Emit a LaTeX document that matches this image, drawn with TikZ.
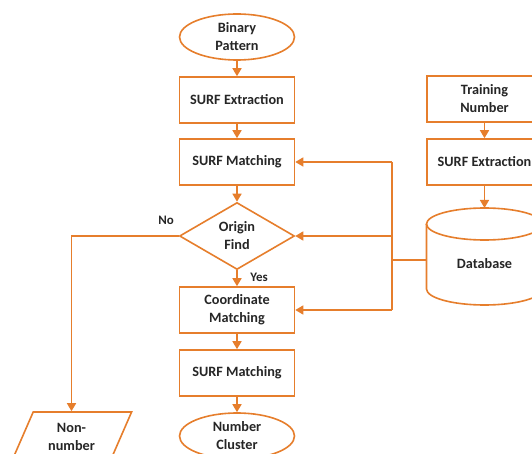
\documentclass[tikz,border=0pt]{standalone}
\usepackage{fontspec}
\setmainfont{Carlito}
\usetikzlibrary{shapes.geometric,arrows.meta}
\definecolor{flow}{RGB}{230,126,44}
\definecolor{ink}{RGB}{38,38,38}
\begin{document}
\begin{tikzpicture}[x=1bp,y=-1bp,
  txt/.style={font=\fontsize{14.3}{18}\selectfont\bfseries,text=ink,align=center,inner sep=0pt},
  line/.style={draw=flow,line width=1.6bp},
  arr/.style={line,-{Triangle[length=8bp,width=9bp]}},
  proc/.style={txt,line,fill=white,rectangle,minimum width=115bp,minimum height=46bp},
  term/.style={txt,line,fill=white,ellipse,minimum width=115bp,minimum height=46bp},
  decide/.style={txt,line,fill=white,diamond,aspect=1.7,minimum width=115bp,minimum height=67bp},
  io/.style={txt,line,fill=white,trapezium,trapezium left angle=64,trapezium right angle=116,
    trapezium stretches=true,minimum width=121bp,minimum height=50bp},
  lbl/.style={font=\bfseries\fontsize{13}{15}\selectfont,text=ink,inner sep=0pt}
]
\useasboundingbox (0,0) rectangle (532,454);
\clip (0,0) rectangle (532,454);

% main column
\node[term]   (bp)  at (237,37)  {Binary\\Pattern};
\node[proc]   (se1) at (237,100) {SURF Extraction};
\node[proc]   (sm1) at (237,162) {SURF Matching};
\node[decide] (of)  at (237,236) {Origin\\Find};
\node[proc]   (cm)  at (237,310) {Coordinate\\Matching};
\node[proc]   (sm2) at (237,373) {SURF Matching};
\node[term]   (nc)  at (237,436) {Number\\Cluster};

% training column
\node[proc] (tn)  at (484.5,99)  {Training\\Number};
\node[proc] (se2) at (484.5,162) {SURF Extraction};

% database cylinder
\draw[line,fill=white] (426.5,224) -- (426.5,289)
  arc[start angle=180,end angle=360,x radius=58bp,y radius=16bp]
  -- (542.5,224)
  arc[start angle=0,end angle=180,x radius=58bp,y radius=16bp] -- cycle;
\draw[line] (426.5,224) arc[start angle=180,end angle=360,x radius=58bp,y radius=16bp];
\node[txt] (db) at (484.5,264) {Database};
\coordinate (dbtop) at (484.5,208);
\coordinate (dbw) at (426.5,260);
\coordinate (bus) at (392,260);

% output for rejected patterns
\node[io] (nn) at (71.5,437) {Non-\\number};

% main flow
\draw[arr] (bp) -- (se1);
\draw[arr] (se1) -- (sm1);
\draw[arr] (sm1) -- (of);
\draw[arr] (of) -- (cm);
\draw[arr] (cm) -- (sm2);
\draw[arr] (sm2) -- (nc);

% training flow
\draw[arr] (tn) -- (se2);
\draw[arr] (se2) -- (dbtop);

% database feedback bus
\draw[line] (dbw) -- (bus);
\draw[line] (sm1.east -| bus) -- (cm.east -| bus);
\draw[arr] (sm1.east -| bus) -- (sm1.east);
\draw[arr] (of.east -| bus) -- (of.east);
\draw[arr] (cm.east -| bus) -- (cm.east);

% no branch
\draw[arr] (of.west) -- (of.west -| nn.north) -- (nn.north);

\node[lbl] at (166,220) {No};
\node[lbl] at (259,277) {Yes};
\end{tikzpicture}
\end{document}
